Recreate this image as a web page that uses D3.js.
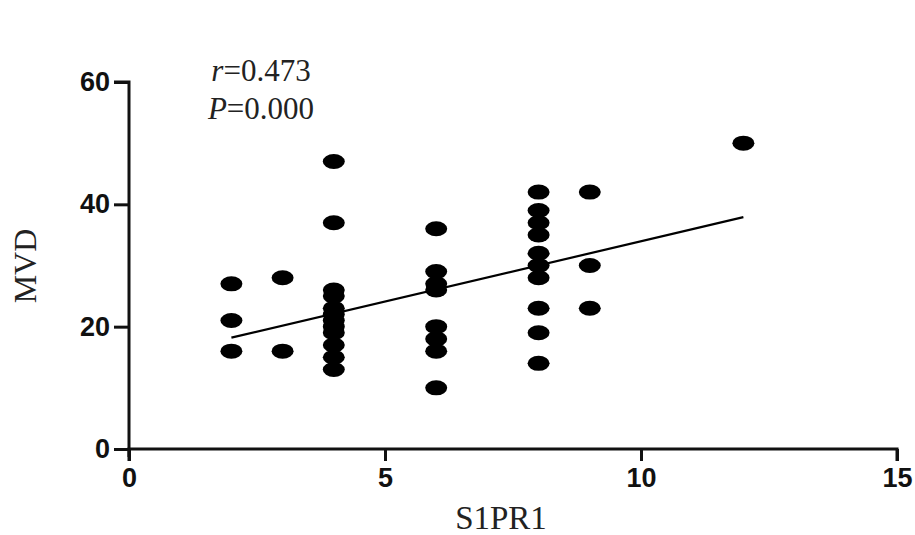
<!DOCTYPE html>
<html>
<head>
<meta charset="utf-8">
<script src="https://cdn.jsdelivr.net/npm/d3@7"></script>
<style>
  html, body { margin: 0; padding: 0; background: #fff; }
  svg { display: block; }
</style>
</head>
<body>
<svg id="chart" width="915" height="535"></svg>
<script>
// S1PR1 score (x) against MVD (y)
var s1pr1 = [2, 2, 2,
             3, 3,
             4, 4, 4, 4, 4, 4, 4, 4, 4, 4, 4, 4,
             6, 6, 6, 6, 6, 6, 6, 6,
             8, 8, 8, 8, 8, 8, 8, 8, 8, 8,
             9, 9, 9,
             12];
var mvd = [27, 21, 16,
           28, 16,
           47, 37, 26, 25, 23, 22, 21, 20, 19, 17, 15, 13,
           36, 29, 27, 26, 20, 18, 16, 10,
           42, 39, 37, 35, 32, 30, 28, 23, 19, 14,
           42, 30, 23,
           50];
var fitX = [2, 12];
var fitY = [18.2, 37.9];
var xTicks = [0, 5, 10, 15];
var yTicks = [0, 20, 40, 60];
var statLines = [["r", "=0.473"], ["P", "=0.000"]];

var svg = d3.select("#chart");
var margin = {left: 129, right: 18, top: 82, bottom: 86};
var W = 915, H = 535;

var x = d3.scaleLinear().domain([0, 15]).range([margin.left, W - margin.right]);
var y = d3.scaleLinear().domain([0, 60]).range([H - margin.bottom, margin.top]);

var tickFont = "'Liberation Sans', Arial, sans-serif";
var serif = "'Liberation Serif', 'Times New Roman', serif";

// axes
var gx = svg.append("g")
    .attr("transform", "translate(0," + y(0) + ")")
    .call(d3.axisBottom(x).tickValues(xTicks).tickSize(12).tickPadding(7).tickFormat(d3.format("d")));
var gy = svg.append("g")
    .attr("transform", "translate(" + x(0) + ",0)")
    .call(d3.axisLeft(y).tickValues(yTicks).tickSize(15).tickPadding(4).tickFormat(d3.format("d")));

[gx, gy].forEach(function (g) {
  g.select(".domain").attr("stroke", "#111").attr("stroke-width", 3)
  g.selectAll(".tick line").attr("stroke", "#111").attr("stroke-width", 3);
  g.selectAll(".tick text")
    .attr("fill", "#111")
    .style("font-family", tickFont)
    .style("font-weight", "bold")
    .style("font-size", "27px");
});
gx.select(".domain").attr("d", "M" + x(0) + ",12V0H" + x(15) + "V12");
gy.select(".domain").attr("d", "M-15," + y(60) + "H0V" + (y(0) + 8));

// points
svg.append("g").selectAll("ellipse")
  .data(s1pr1.map(function (v, i) { return [v, mvd[i]]; }))
  .enter().append("ellipse")
  .attr("cx", function (d) { return x(d[0]); })
  .attr("cy", function (d) { return y(d[1]); })
  .attr("rx", 11).attr("ry", 7.5)
  .attr("fill", "#000");

// fitted line
svg.append("path")
  .datum(fitX.map(function (v, i) { return [v, fitY[i]]; }))
  .attr("d", d3.line().x(function (d) { return x(d[0]); }).y(function (d) { return y(d[1]); }))
  .attr("stroke", "#000").attr("stroke-width", 2.2).attr("fill", "none");

// axis titles
svg.append("text")
  .attr("x", 501).attr("y", 529)
  .attr("text-anchor", "middle")
  .style("font-family", serif).style("font-size", "33px").attr("fill", "#222")
  .text("S1PR1");
svg.append("text")
  .attr("transform", "translate(36," + 266 + ") rotate(-90)")
  .attr("text-anchor", "middle")
  .style("font-family", serif).style("font-size", "32px").attr("fill", "#222")
  .text("MVD");

// r and P
statLines.forEach(function (s, i) {
  var t = svg.append("text")
    .attr("x", 261).attr("y", 81 + i * 38)
    .attr("text-anchor", "middle")
    .style("font-family", serif).style("font-size", "31px").attr("fill", "#222");
  t.append("tspan").style("font-style", "italic").text(s[0]);
  t.append("tspan").text(s[1]);
});
</script>
</body>
</html>
